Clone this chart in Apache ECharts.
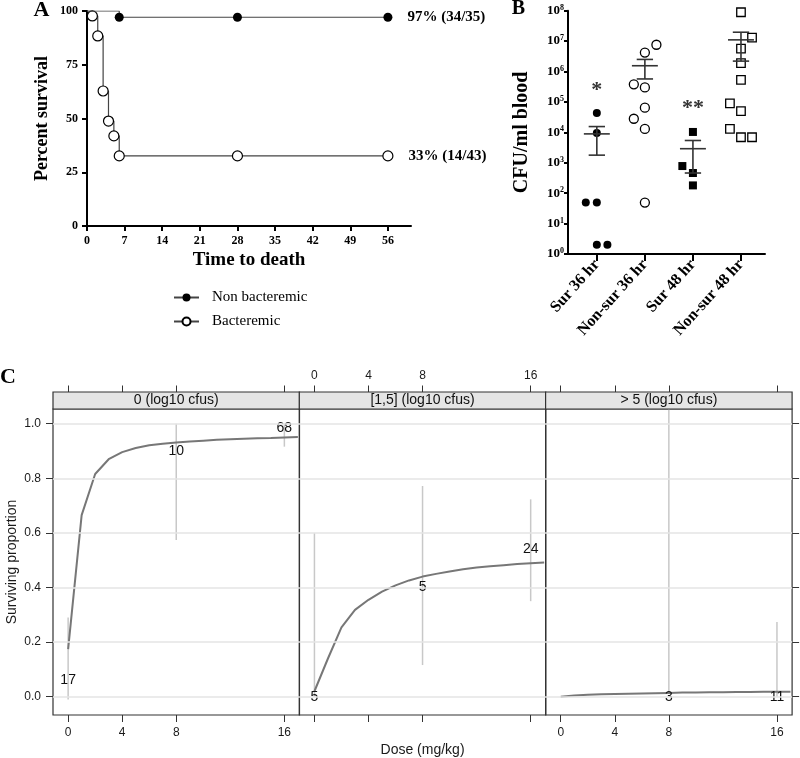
<!DOCTYPE html>
<html><head><meta charset="utf-8">
<script src="https://cdn.jsdelivr.net/npm/echarts@6.0.0/dist/echarts.min.js"></script>
<style>html,body{margin:0;padding:0;background:#fff}#c{width:800px;height:758px}</style>
</head><body><div id="c"></div>
<script>
// ---------- Panel A: survival ----------
const survXTicks = [0, 7, 14, 21, 28, 35, 42, 49, 56];
const survYTicks = [0, 25, 50, 75, 100];
const nonBactDays = [0, 6, 28, 56];
const nonBactPct  = [100, 97.1, 97.1, 97.1];
const bactDays = [0, 1, 2, 3, 4, 5, 6, 28, 56];
const bactPct  = [100, 97.7, 88.4, 62.8, 48.8, 41.9, 32.6, 32.6, 32.6];
const survEndLabels = ['97% (34/35)', '33% (14/43)'];
const survNames = ['Non bacteremic', 'Bacteremic'];

// ---------- Panel B: CFU/ml blood ----------
const cfuGroups = ['Sur 36 hr', 'Non-sur 36 hr', 'Sur 48 hr', 'Non-sur 48 hr'];
const cfuTicks = [1, 10, 100, 1e3, 1e4, 1e5, 1e6, 1e7, 1e8];
const sur36 = [4.3e4, 9.5e3, 49, 49, 2, 2];
const sur36Jitter = [0, 0, -0.23, 0, 0, 0.22];
const nonSur36 = [7.6e6, 4.2e6, 3.8e5, 3.0e5, 6.5e4, 2.8e4, 1.3e4, 49];
const nonSur36Jitter = [0.24, 0, -0.23, 0, 0, -0.23, 0, 0];
const sur48 = [1.03e4, 780, 460, 180];
const sur48Jitter = [0, -0.22, 0, 0];
const nonSur48 = [8.9e7, 1.3e7, 5.7e6, 1.9e6, 5.3e5, 9.0e4, 5.0e4, 1.3e4, 6.9e3, 6.9e3];
const nonSur48Jitter = [0, 0.23, 0, 0, 0, -0.23, 0, -0.23, 0, 0.23];
const cfuMean = [8.9e3, 1.55e6, 2.9e3, 1.1e7];
const cfuSemHigh = [1.55e4, 2.5e6, 5.4e3, 1.96e7];
const cfuSemLow = [1.78e3, 5.7e5, 460, 2.2e6];
const sigMarks = ['*', '**'];
const sigGroup = [1, 3];
const sigLevel = [2.4e5, 6.2e4];

// ---------- Panel C: surviving proportion ----------
const stripLabels = ['0 (log10 cfus)', '[1,5] (log10 cfus)', '> 5 (log10 cfus)'];
const doseTicks = [0, 4, 8, 16];
const propTicks = [0, 0.2, 0.4, 0.6, 0.8, 1.0];
const curveDose = [0, 1, 2, 3, 4, 5, 6, 7, 8, 9, 10, 11, 12, 13, 14, 15, 16, 17];
const curveLow  = [0.174, 0.665, 0.816, 0.870, 0.896, 0.911, 0.921, 0.927, 0.931, 0.935, 0.938, 0.941, 0.943, 0.945, 0.947, 0.948, 0.950, 0.951];
const curveMid  = [0.020, 0.140, 0.254, 0.318, 0.355, 0.385, 0.408, 0.426, 0.440, 0.450, 0.459, 0.467, 0.473, 0.478, 0.482, 0.486, 0.489, 0.492];
const curveHigh = [0.000, 0.004, 0.007, 0.009, 0.010, 0.011, 0.012, 0.013, 0.014, 0.015, 0.015, 0.016, 0.016, 0.017, 0.017, 0.018, 0.018, 0.018];
const obsDose = [[0, 8, 16], [0, 8, 16], [8, 16]];
const obsProp = [[0.059, 0.9, 0.985], [0.0, 0.4, 0.542], [0.0, 0.0]];
const obsN    = [[17, 10, 68], [5, 5, 24], [3, 11]];
const ciLow   = [[-0.01, 0.574, 0.916], [0.0, 0.116, 0.35], [0.01, 0.0]];
const ciHigh  = [[0.29, 1.0, 1.0], [0.6, 0.772, 0.723], [1.06, 0.274]];

const SERIF = '"Liberation Serif", "Times New Roman", serif';
const SANS = '"Liberation Sans", Arial, sans-serif';
const cLeft = [53, 299.3, 545.6];
const cW = 246.5, cTop = 409, cH = 306, stripH = 17;
const curves = [curveLow, curveMid, curveHigh];

const chart = echarts.init(document.getElementById('c'), null, {renderer: 'canvas'});

function kmData(days, pct, k) {
  return days.map((d, i) => {
    const it = {value: [d, pct[i]]};
    if (i === 0) it.symbol = 'none';
    if (i === days.length - 1) it.label = {show: true, position: 'right', distance: 15, formatter: survEndLabels[k],
      fontFamily: SERIF, fontWeight: 'bold', fontSize: 15, color: '#000'};
    return it;
  });
}
function jitterData(vals, jit, g) { return vals.map((v, i) => [g + jit[i], v]); }

function semRender(params, api) {
  const x = api.value(0), m = api.value(1), lo = api.value(2), hi = api.value(3);
  const pm = api.coord([x, m]), pl = api.coord([x, lo]), ph = api.coord([x, hi]);
  const half = api.size([0.27, 1])[0], cap = api.size([0.17, 1])[0];
  const st = {stroke: '#333', lineWidth: 1.6};
  return {type: 'group', children: [
    {type: 'line', shape: {x1: pm[0] - half, y1: pm[1], x2: pm[0] + half, y2: pm[1]}, style: st},
    {type: 'line', shape: {x1: pl[0], y1: pl[1], x2: ph[0], y2: ph[1]}, style: st},
    {type: 'line', shape: {x1: pl[0] - cap, y1: pl[1], x2: pl[0] + cap, y2: pl[1]}, style: st},
    {type: 'line', shape: {x1: ph[0] - cap, y1: ph[1], x2: ph[0] + cap, y2: ph[1]}, style: st}
  ]};
}
function ciRender(params, api) {
  const x = api.value(0), lo = api.value(1), hi = api.value(2);
  const p1 = api.coord([x, lo]), p2 = api.coord([x, hi]);
  const cs = params.coordSys;
  const clamp = y => Math.min(cs.y + cs.height, Math.max(cs.y, y));
  return {type: 'line', shape: {x1: p1[0], y1: clamp(p1[1]), x2: p2[0], y2: clamp(p2[1])},
    style: {stroke: '#c8c8c8', lineWidth: 1.5}};
}

const grid = [
  {left: 87, top: 11, width: 324, height: 215},
  {left: 568, top: 10.7, width: 197, height: 243.3}
];
cLeft.forEach(l => grid.push({left: l, top: cTop, width: cW, height: cH, show: true,
  borderColor: '#333', borderWidth: 1.2, backgroundColor: 'transparent'}));
grid.forEach(g => { g.containLabel = false; g.outerBoundsMode = 'none'; });

const boldSerif = {fontFamily: SERIF, fontWeight: 'bold', color: '#000'};
const plainLabel = {textBorderWidth: 0, textBorderColor: 'transparent', textShadowBlur: 0, opacity: 1};
const hidden = {color: 'rgba(0,0,0,0)', opacity: 1};

const xAxis = [
  {type: 'value', gridIndex: 0, min: 0, max: 60.3,
   axisLine: {show: true, onZero: false, lineStyle: {color: '#000', width: 2}},
   axisTick: {show: true, customValues: survXTicks, length: 5, lineStyle: {color: '#000', width: 2}},
   axisLabel: {customValues: survXTicks, margin: 9, ...boldSerif, fontSize: 12},
   splitLine: {show: false},
   name: 'Time to death', nameLocation: 'middle', nameGap: 25,
   nameTextStyle: {...boldSerif, fontSize: 19}},
  {type: 'value', gridIndex: 1, min: 0.4, max: 4.5,
   axisLine: {show: true, onZero: false, lineStyle: {color: '#000', width: 2}},
   axisTick: {show: true, customValues: [1, 2, 3, 4], length: 7, lineStyle: {color: '#000', width: 2}},
   axisLabel: {customValues: [1, 2, 3, 4], rotate: 48, margin: 8, formatter: v => cfuGroups[Math.round(v) - 1],
     ...boldSerif, fontSize: 16},
   splitLine: {show: false}}
];
for (let i = 0; i < 3; i++) {
  xAxis.push({type: 'value', gridIndex: 2 + i, min: -1.12, max: 17.12, position: 'bottom',
    axisLine: {show: false, onZero: false},
    axisTick: {show: true, customValues: doseTicks, length: 7, lineStyle: {color: '#333', width: 1}},
    axisLabel: {show: i !== 1, customValues: doseTicks, margin: 12, fontFamily: SANS, fontSize: 12, color: '#1a1a1a'},
    splitLine: {show: false},
    name: i === 1 ? 'Dose (mg/kg)' : '', nameLocation: 'middle', nameGap: 28,
    nameTextStyle: {fontFamily: SANS, fontSize: 14, color: '#1a1a1a'}});
}
for (let i = 0; i < 3; i++) {
  xAxis.push({type: 'value', gridIndex: 2 + i, min: -1.12, max: 17.12, position: 'top', offset: stripH,
    axisLine: {show: false, onZero: false},
    axisTick: {show: true, customValues: doseTicks, length: 6.5, lineStyle: {color: '#333', width: 1}},
    axisLabel: {show: i === 1, customValues: doseTicks, margin: 10, fontFamily: SANS, fontSize: 12, color: '#1a1a1a'},
    splitLine: {show: false}});
}

const yAxis = [
  {type: 'value', gridIndex: 0, min: 0, max: 100,
   axisLine: {show: true, onZero: false, lineStyle: {color: '#000', width: 2}},
   axisTick: {show: true, customValues: survYTicks, length: 5, lineStyle: {color: '#000', width: 2}},
   axisLabel: {customValues: survYTicks, margin: 9, ...boldSerif, fontSize: 12},
   splitLine: {show: false},
   name: 'Percent survival', nameLocation: 'middle', nameGap: 36, nameTextStyle: {...boldSerif, fontSize: 18}},
  {type: 'log', logBase: 10, gridIndex: 1, min: 1, max: 1e8, splitNumber: 8,
   axisLine: {show: true, onZero: false, lineStyle: {color: '#000', width: 2}},
   axisTick: {show: true, customValues: cfuTicks, length: 4, lineStyle: {color: '#000', width: 2}},
   minorTick: {show: false},
   axisLabel: {customValues: cfuTicks, margin: 4,
     formatter: v => '{b|10}{s|' + Math.round(Math.log10(v)) + '}',
     rich: {b: {...boldSerif, fontSize: 13, lineHeight: 14}, s: {...boldSerif, fontSize: 8, verticalAlign: 'top', lineHeight: 14}}},
   splitLine: {show: false},
   name: 'CFU/ml blood', nameLocation: 'middle', nameGap: 36, nameTextStyle: {...boldSerif, fontSize: 20}}
];
for (let i = 0; i < 3; i++) {
  yAxis.push({type: 'value', gridIndex: 2 + i, min: -0.067, max: 1.054,
    position: i === 2 ? 'right' : 'left',
    axisLine: {show: false, onZero: false},
    axisTick: {show: i !== 1, customValues: propTicks, length: 7, lineStyle: {color: '#333', width: 1}},
    axisLabel: {show: i === 0, customValues: propTicks, margin: 12, formatter: v => v.toFixed(1),
      fontFamily: SANS, fontSize: 12, color: '#1a1a1a'},
    splitLine: {show: false},
    name: i === 0 ? 'Surviving proportion' : '', nameLocation: 'middle', nameGap: 34,
    nameTextStyle: {fontFamily: SANS, fontSize: 14, color: '#1a1a1a'}});
}

const series = [
  {type: 'line', name: survNames[0], xAxisIndex: 0, yAxisIndex: 0, step: 'end', data: kmData(nonBactDays, nonBactPct, 0),
   symbol: 'circle', symbolSize: 9, lineStyle: {color: '#444', width: 1.2}, itemStyle: {color: '#000'}, z: 4},
  {type: 'line', name: survNames[1], xAxisIndex: 0, yAxisIndex: 0, step: 'end', data: kmData(bactDays, bactPct, 1),
   symbol: 'circle', symbolSize: 10, lineStyle: {color: '#444', width: 1.2},
   itemStyle: {color: '#fff', borderColor: '#000', borderWidth: 1.2}, z: 3},
  {type: 'scatter', xAxisIndex: 1, yAxisIndex: 1, data: jitterData(sur36, sur36Jitter, 1),
   symbol: 'circle', symbolSize: 8, itemStyle: {color: '#000', opacity: 1}},
  {type: 'scatter', xAxisIndex: 1, yAxisIndex: 1, data: jitterData(nonSur36, nonSur36Jitter, 2),
   symbol: 'circle', symbolSize: 9, itemStyle: {color: '#fff', borderColor: '#000', borderWidth: 1.3, opacity: 1}},
  {type: 'scatter', xAxisIndex: 1, yAxisIndex: 1, data: jitterData(sur48, sur48Jitter, 3),
   symbol: 'rect', symbolSize: 8, itemStyle: {color: '#000', opacity: 1}},
  {type: 'scatter', xAxisIndex: 1, yAxisIndex: 1, data: jitterData(nonSur48, nonSur48Jitter, 4),
   symbol: 'rect', symbolSize: 8.5, itemStyle: {color: '#fff', borderColor: '#000', borderWidth: 1.3, opacity: 1}},
  {type: 'custom', xAxisIndex: 1, yAxisIndex: 1, renderItem: semRender, encode: {x: 0, y: [1, 2, 3]},
   data: cfuMean.map((m, i) => [i + 1, m, cfuSemLow[i], cfuSemHigh[i]]), z: 5},
  {type: 'scatter', xAxisIndex: 1, yAxisIndex: 1, symbol: 'circle', symbolSize: 1, itemStyle: hidden,
   data: sigMarks.map((s, i) => [sigGroup[i], sigLevel[i], s]),
   label: {show: true, position: 'inside', formatter: p => p.value[2], fontFamily: SERIF, fontWeight: 'bold',
     fontSize: 22, color: '#333', ...plainLabel}}
];
for (let i = 0; i < 3; i++) {
  series.push({type: 'custom', xAxisIndex: 2 + i, yAxisIndex: 2 + i, renderItem: ciRender, encode: {x: 0, y: [1, 2]},
    data: obsDose[i].map((d, j) => [d, ciLow[i][j], ciHigh[i][j]]), z: 2,
    markLine: {silent: true, symbol: ['none', 'none'], label: {show: false}, animation: false,
      lineStyle: {color: '#e4e4e4', width: 1.5, type: 'solid'}, emphasis: {disabled: true},
      data: propTicks.map(v => ({yAxis: v}))}});
  series.push({type: 'line', xAxisIndex: 2 + i, yAxisIndex: 2 + i, symbol: 'none', z: 3,
    data: curveDose.map((d, j) => [d, curves[i][j]]), lineStyle: {color: '#777', width: 2}});
  series.push({type: 'scatter', xAxisIndex: 2 + i, yAxisIndex: 2 + i, symbol: 'circle', symbolSize: 1, z: 4,
    itemStyle: hidden,
    data: obsDose[i].map((d, j) => [d, obsProp[i][j], obsN[i][j]]),
    label: {show: true, position: 'inside', formatter: p => String(p.value[2]), fontFamily: SANS, fontSize: 14,
      color: '#111', ...plainLabel}});
}

const graphic = [
  {type: 'text', x: 41.5, y: 10, style: {text: 'A', align: 'center', verticalAlign: 'middle', fontFamily: SERIF, fontWeight: 'bold', fontSize: 22, fill: '#000'}},
  {type: 'text', x: 518.5, y: 9, style: {text: 'B', align: 'center', verticalAlign: 'middle', fontFamily: SERIF, fontWeight: 'bold', fontSize: 20, fill: '#000'}},
  {type: 'text', x: 8, y: 377.5, style: {text: 'C', align: 'center', verticalAlign: 'middle', fontFamily: SERIF, fontWeight: 'bold', fontSize: 22, fill: '#000'}}
];
cLeft.forEach((l, i) => {
  graphic.push({type: 'rect', shape: {x: l, y: cTop - stripH, width: cW, height: stripH},
    style: {fill: '#e5e5e5', stroke: '#333', lineWidth: 1.2}, z: 10});
  graphic.push({type: 'text', x: l + cW / 2, y: cTop - stripH / 2, z: 11,
    style: {text: stripLabels[i], align: 'center', verticalAlign: 'middle', fontFamily: SANS, fontSize: 14, fill: '#111'}});
});

chart.setOption({
  animation: false,
  backgroundColor: '#fff',
  grid, xAxis, yAxis, series, graphic,
  legend: {data: survNames, left: 168, top: 285, orient: 'vertical', itemWidth: 25, itemHeight: 10, itemGap: 9,
    selectedMode: false, textStyle: {fontFamily: SERIF, fontSize: 15, color: '#000', padding: [0, 0, 0, 8]}}
});
</script>
</body></html>
